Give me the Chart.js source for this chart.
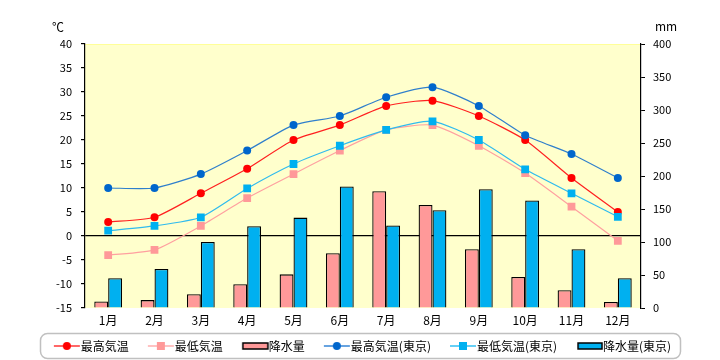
<!DOCTYPE html>
<html>
<head>
<meta charset="utf-8">
<script src="https://cdn.jsdelivr.net/npm/chart.js@4/dist/chart.umd.min.js"></script>
<style>
  html, body { margin: 0; padding: 0; background: #fff; }
  #wrap { width: 720px; height: 360px; }
</style>
</head>
<body>
<div id="wrap"><canvas id="climateChart" width="720" height="360"></canvas></div>
<script>
const months = ['1月', '2月', '3月', '4月', '5月', '6月', '7月', '8月', '9月', '10月', '11月', '12月'];
const maxTemp = [2.9, 3.9, 8.9, 14.0, 20.0, 23.1, 27.1, 28.2, 25.0, 20.0, 12.1, 5.0];
const minTemp = [-4.0, -2.9, 2.1, 7.9, 12.9, 17.8, 22.1, 23.1, 18.8, 13.1, 6.1, -1.0];
const rain = [10, 12, 21, 36, 51, 83, 177, 156, 89, 47, 27, 9];
const tokyoMax = [10.0, 10.0, 12.9, 17.8, 23.1, 25.0, 28.9, 31.0, 27.1, 21.0, 17.1, 12.1];
const tokyoMin = [1.1, 2.1, 3.9, 9.9, 15.0, 18.8, 22.1, 23.9, 20.0, 13.9, 8.9, 4.0];
const tokyoRain = [45, 59, 100, 124, 137, 184, 125, 148, 180, 163, 89, 45];

const tempTicks = { min: -15, max: 40, step: 5 };
const rainTicks = { min: 0, max: 400, step: 50 };

const FONT = '"Noto Sans CJK JP", "DejaVu Sans", sans-serif';

// legend markers: drawn shifted right so they sit next to the text
function lineMarker(color, markColor, shape) {
  const c = document.createElement('canvas');
  c.width = 40; c.height = 12;
  const g = c.getContext('2d');
  g.strokeStyle = color;
  g.lineWidth = 1.2;
  g.beginPath(); g.moveTo(12, 6); g.lineTo(38, 6); g.stroke();
  g.fillStyle = markColor;
  if (shape === 'circle') {
    g.beginPath(); g.arc(25, 6, 4, 0, Math.PI * 2); g.fill();
  } else {
    g.fillRect(21, 2, 8, 8);
  }
  return c;
}
function barMarker(color, w) {
  const c = document.createElement('canvas');
  c.width = 40; c.height = 10;
  const g = c.getContext('2d');
  g.fillStyle = color;
  g.fillRect(39 - w, 2, w - 1, 6);
  g.strokeStyle = '#000';
  g.lineWidth = 1.5;
  g.strokeRect(39 - w, 2, w - 1, 6);
  return c;
}

const plotBg = {
  id: 'plotBg',
  beforeDraw(chart) {
    const { ctx, chartArea: a } = chart;
    ctx.save();
    ctx.fillStyle = '#FFFFCC';
    ctx.fillRect(a.left, a.top, a.right - a.left, a.bottom - a.top);
    ctx.strokeStyle = '#FFFF99';
    ctx.lineWidth = 1;
    ctx.beginPath(); ctx.moveTo(a.left, a.top + 0.5); ctx.lineTo(a.right, a.top + 0.5); ctx.stroke();
    ctx.restore();
  },
  afterDraw(chart) {
    const { ctx } = chart;
    ctx.save();
    ctx.fillStyle = '#000';
    ctx.font = '12px ' + FONT;
    ctx.textAlign = 'center';
    ctx.textBaseline = 'middle';
    ctx.fillText('℃', 58, 27);
    ctx.fillText('mm', 666, 26);
    // legend frame
    ctx.strokeStyle = '#C0C0C0';
    ctx.lineWidth = 1.5;
    ctx.beginPath();
    ctx.roundRect(40.5, 333.5, 640, 25, 7);
    ctx.stroke();
    ctx.restore();
  }
};

new Chart(document.getElementById('climateChart'), {
  type: 'bar',
  data: {
    labels: months,
    datasets: [
      {
        type: 'line', label: '最高気温', data: maxTemp, yAxisID: 'y', order: 4,
        borderColor: '#FF2020', backgroundColor: '#FF0000', borderWidth: 1.2,
        pointStyle: 'circle', pointRadius: 4, pointBorderWidth: 0, tension: 0.2,
        legendMark: lineMarker('#FF0000', '#FF0000', 'circle')
      },
      {
        type: 'line', label: '最低気温', data: minTemp, yAxisID: 'y', order: 3,
        borderColor: '#FFA0A0', backgroundColor: '#FF9999', borderWidth: 1.2,
        pointStyle: 'rect', pointRadius: 5.5, pointBorderWidth: 0, tension: 0.2,
        legendMark: lineMarker('#FF9999', '#FF9999', 'rect')
      },
      {
        type: 'bar', label: '降水量', data: rain, yAxisID: 'y1', order: 5,
        backgroundColor: '#FF9999', borderColor: '#000', borderWidth: 1.3,
        categoryPercentage: 0.6, barPercentage: 1,
        legendMark: barMarker('#FF9999', 26)
      },
      {
        type: 'line', label: '最高気温(東京)', data: tokyoMax, yAxisID: 'y', order: 2,
        borderColor: '#2F7FCC', backgroundColor: '#0066CC', borderWidth: 1.2,
        pointStyle: 'circle', pointRadius: 4, pointBorderWidth: 0, tension: 0.2,
        legendMark: lineMarker('#0066CC', '#0066CC', 'circle')
      },
      {
        type: 'line', label: '最低気温(東京)', data: tokyoMin, yAxisID: 'y', order: 1,
        borderColor: '#30BBEE', backgroundColor: '#00B0F0', borderWidth: 1.2,
        pointStyle: 'rect', pointRadius: 5.5, pointBorderWidth: 0, tension: 0.2,
        legendMark: lineMarker('#00B0F0', '#00B0F0', 'rect')
      },
      {
        type: 'bar', label: '降水量(東京)', data: tokyoRain, yAxisID: 'y1', order: 5,
        backgroundColor: '#00B0F0', borderColor: '#000', borderWidth: 1.3,
        categoryPercentage: 0.6, barPercentage: 1,
        legendMark: barMarker('#00B0F0', 25)
      }
    ]
  },
  options: {
    responsive: false,
    animation: false,
    layout: { padding: { top: 44, left: 0, right: 0, bottom: 0 } },
    scales: {
      x: {
        grid: { display: false, drawTicks: false },
        border: { display: false },
        ticks: { color: '#000', font: { size: 12, family: FONT }, padding: 5, maxRotation: 0 },
        afterFit: (s) => { s.height = 18; }
      },
      y: {
        position: 'left',
        min: tempTicks.min, max: tempTicks.max,
        ticks: { stepSize: tempTicks.step, color: '#000', font: { size: 11, family: FONT }, padding: 9 },
        grid: {
          color: (c) => (c.tick && c.tick.value === 0 ? '#000' : 'transparent'),
          lineWidth: 1.2,
          tickColor: '#000', tickLength: 4, drawTicks: true
        },
        border: { display: true, color: '#000', width: 1.2 },
        afterFit: (s) => { s.width = 85; }
      },
      y1: {
        position: 'right',
        min: rainTicks.min, max: rainTicks.max,
        ticks: { stepSize: rainTicks.step, color: '#000', font: { size: 11, family: FONT }, padding: 8 },
        grid: { drawOnChartArea: false, tickColor: '#000', tickLength: 4 },
        border: { display: true, color: '#000', width: 1.2 },
        afterFit: (s) => { s.width = 79; }
      }
    },
    plugins: {
      legend: {
        position: 'bottom',
        maxHeight: 34,
        labels: {
          color: '#000',
          font: { size: 12, family: FONT },
          usePointStyle: true,
          pointStyleWidth: 26,
          padding: 14,
          generateLabels: (chart) => chart.data.datasets.map((ds, i) => ({
            text: ds.label,
            pointStyle: ds.legendMark,
            fontColor: '#000',
            lineWidth: 0,
            hidden: false,
            datasetIndex: i
          }))
        }
      },
      tooltip: { enabled: false }
    }
  },
  plugins: [plotBg]
});
</script>
</body>
</html>
